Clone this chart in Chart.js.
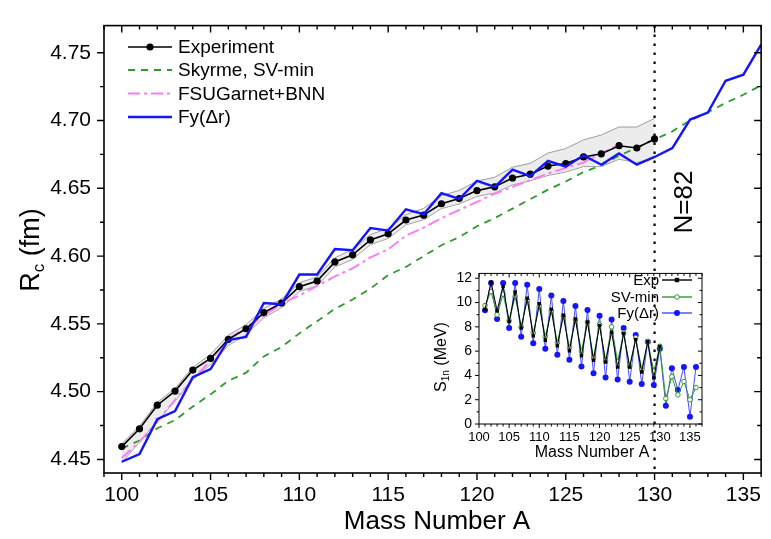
<!DOCTYPE html>
<html>
<head>
<meta charset="utf-8">
<script src="https://cdn.jsdelivr.net/npm/chart.js@4.4.1/dist/chart.umd.min.js"></script>
<style>
  html, body { margin: 0; padding: 0; background: #fff; }
  #wrap { position: relative; width: 771px; height: 539px; }
  #main { position: absolute; left: 0; top: 0; }
  #inset { position: absolute; left: 420px; top: 258px; }
</style>
</head>
<body>
<div id="wrap">
  <canvas id="main" width="771" height="539"></canvas>
  <canvas id="inset" width="300" height="210"></canvas>
</div>
<script>
// ---- main panel: charge radii R_c (fm) ----
const expA = [100,101,102,103,104,105,106,107,108,109,110,111,112,113,114,115,116,117,118,119,120,121,122,123,124,125,126,127,128,129,130];
const expRc = [4.4595,4.4726,4.4900,4.5004,4.5159,4.5245,4.5386,4.5464,4.5583,4.5654,4.5774,4.5816,4.5957,4.6009,4.6119,4.6164,4.6266,4.6302,4.6386,4.6424,4.6483,4.6511,4.6576,4.6604,4.6664,4.6683,4.6731,4.6754,4.6814,4.6797,4.6864];
const bandHi = [4.4615,4.4746,4.4920,4.5024,4.5179,4.5275,4.5416,4.5494,4.5613,4.5684,4.5804,4.5846,4.5987,4.6049,4.6159,4.6204,4.6306,4.6352,4.6446,4.6484,4.6553,4.6581,4.6656,4.6684,4.6760,4.6793,4.6857,4.6893,4.6952,4.6952,4.7016];
const bandLo = [4.4475,4.4630,4.4780,4.4930,4.5090,4.5200,4.5340,4.5420,4.5545,4.5620,4.5740,4.5780,4.5920,4.5975,4.6085,4.6130,4.6230,4.6268,4.6350,4.6385,4.6440,4.6465,4.6525,4.6555,4.6595,4.6620,4.6660,4.6660,4.6714,4.6690,4.6726];

const theoryA = [100,101,102,103,104,105,106,107,108,109,110,111,112,113,114,115,116,117,118,119,120,121,122,123,124,125,126,127,128,129,130,131,132,133,134,135,136];
const svminRc = [4.458,4.464,4.473,4.479,4.489,4.498,4.508,4.514,4.526,4.533,4.543,4.552,4.561,4.568,4.576,4.586,4.592,4.600,4.608,4.614,4.622,4.628,4.635,4.642,4.649,4.655,4.662,4.667,4.674,4.680,4.686,4.692,4.700,4.706,4.713,4.719,4.726];
const fyRc = [4.4483,4.4540,4.4797,4.4857,4.5107,4.5166,4.5381,4.5404,4.5654,4.5645,4.5864,4.5864,4.6052,4.6043,4.6207,4.6188,4.6345,4.6309,4.6464,4.6421,4.6554,4.6511,4.6638,4.6590,4.6702,4.6659,4.6743,4.6674,4.6757,4.6674,4.6731,4.6797,4.7007,4.7059,4.7293,4.7338,4.7559];

const fsuA = [100,101,102,103,104,105,106,107,108,109,110,111,112,113,114,115,116,117,118,119,120,121,122,123,124,125,126,127,128];
const fsuRc = [4.451,4.463,4.478,4.494,4.509,4.523,4.539,4.547,4.556,4.565,4.571,4.578,4.585,4.591,4.599,4.605,4.615,4.621,4.628,4.634,4.640,4.646,4.651,4.656,4.661,4.665,4.669,4.676,4.682];

const mainXTicks = [100,105,110,115,120,125,130,135];
const mainYTicks = [4.45,4.50,4.55,4.60,4.65,4.70,4.75];
const shellClosureA = 130;

// ---- inset: one-neutron separation energy S_1n (MeV) ----
const s1nA = [101,102,103,104,105,106,107,108,109,110,111,112,113,114,115,116,117,118,119,120,121,122,123,124,125,126,127,128,129,130,131,132,133,134,135,136];
const s1nExp = [9.43,11.68,9.33,11.33,8.44,10.88,7.90,10.35,7.26,9.91,6.90,9.46,6.43,8.95,6.03,8.65,5.62,8.40,5.25,8.12,5.10,7.55,4.68,7.45,4.68,6.96,4.28,6.78,3.80,6.38];
const s1nSv = [9.75,10.90,9.00,10.70,8.50,10.50,8.00,10.20,7.50,9.70,7.20,9.30,6.70,8.90,6.30,8.60,6.00,8.40,5.45,8.20,5.20,8.00,5.15,7.50,4.75,7.10,4.50,6.80,4.35,6.40,2.10,3.90,2.40,3.50,2.00,3.00];
const s1nFy = [9.37,11.60,8.65,11.60,7.90,11.60,7.18,11.46,6.64,11.12,6.19,10.58,5.71,10.13,5.28,9.72,4.74,9.38,4.18,8.92,3.83,8.60,3.67,7.90,3.48,7.32,3.29,6.78,3.21,6.19,1.50,4.60,2.80,4.70,0.60,4.70];

const insetXTicks = [100,105,110,115,120,125,130,135];
const insetYTicks = [0,2,4,6,8,10,12];

const FONT = "'Liberation Sans', Arial, Helvetica, sans-serif";
const BLUE = '#1414ff';
const GREEN = '#2f9a2f';
const PINK = '#ff7cf6';

const pts = (xs, ys) => ys.map((y, i) => ({ x: xs[i], y }));

// Draw text made of parts (for subscripts), centred at cx,cy, optionally rotated
function drawRich(ctx, parts, cx, cy, rot) {
  ctx.save();
  ctx.translate(cx, cy);
  if (rot) ctx.rotate(rot);
  let total = 0;
  parts.forEach((p) => {
    ctx.font = `${p.size}px ${FONT}`;
    p.w = ctx.measureText(p.t).width;
    total += p.w;
  });
  let x = -total / 2;
  ctx.fillStyle = '#000';
  ctx.textBaseline = 'middle';
  ctx.textAlign = 'left';
  parts.forEach((p) => {
    ctx.font = `${p.size}px ${FONT}`;
    ctx.fillText(p.t, x, p.dy || 0);
    x += p.w;
  });
  ctx.restore();
}

// Tick positions along a scale, flagged major/minor
function tickList(scale, minor, major) {
  const out = [];
  const i0 = Math.ceil(scale.min / minor - 1e-6);
  const i1 = Math.floor(scale.max / minor + 1e-6);
  for (let i = i0; i <= i1; i++) {
    const v = i * minor;
    const r = v / major;
    out.push({ px: scale.getPixelForValue(v), major: Math.abs(r - Math.round(r)) < 1e-6 });
  }
  return out;
}

// Box frame, ticks (outward bottom/left, inward top/right), dotted line, extra text
const framePlugin = {
  id: 'frame',
  afterDatasetsDraw(chart, args, opts) {
    const { ctx, chartArea: a, scales: { x, y } } = chart;
    ctx.save();
    if (opts.vline != null) {
      const vx = x.getPixelForValue(opts.vline);
      ctx.strokeStyle = '#000';
      ctx.lineWidth = opts.vlineWidth;
      ctx.setLineDash(opts.vlineDash);
      ctx.beginPath();
      ctx.moveTo(vx, a.top);
      ctx.lineTo(vx, a.bottom);
      ctx.stroke();
      ctx.setLineDash([]);
    }
    ctx.strokeStyle = '#000';
    ctx.lineWidth = opts.lw;
    ctx.strokeRect(a.left, a.top, a.right - a.left, a.bottom - a.top);
    ctx.lineWidth = opts.tw;
    ctx.beginPath();
    tickList(x, opts.xMinor, opts.xMajor).forEach((t) => {
      const L = t.major ? opts.majLen : opts.minLen;
      ctx.moveTo(t.px, a.bottom); ctx.lineTo(t.px, a.bottom + L);
      ctx.moveTo(t.px, a.top); ctx.lineTo(t.px, a.top + L);
    });
    tickList(y, opts.yMinor, opts.yMajor).forEach((t) => {
      const L = t.major ? opts.majLen : opts.minLen;
      ctx.moveTo(a.left, t.px); ctx.lineTo(a.left - L, t.px);
      ctx.moveTo(a.right, t.px); ctx.lineTo(a.right - L, t.px);
    });
    ctx.stroke();
    ctx.restore();
    if (opts.draw) opts.draw(chart);
  }
};

// ---- main chart ----
new Chart(document.getElementById('main'), {
  type: 'line',
  data: {
    datasets: [
      { data: pts(expA, bandHi), borderColor: '#9c9c9c', borderWidth: 1, pointRadius: 0, fill: '+1', backgroundColor: 'rgba(200,200,200,0.35)', order: 6 },
      { data: pts(expA, bandLo), borderColor: '#9c9c9c', borderWidth: 1, pointRadius: 0, fill: false, order: 7 },
      { label: 'Experiment', data: pts(expA, expRc), borderColor: '#000', borderWidth: 1.6, pointRadius: 3.6, pointBackgroundColor: '#000', pointBorderWidth: 0, order: 2 },
      { label: 'Skyrme, SV-min', data: pts(theoryA, svminRc), borderColor: GREEN, borderWidth: 1.8, borderDash: [7, 6], pointRadius: 0, order: 4 },
      { label: 'FSUGarnet+BNN', data: pts(fsuA, fsuRc), borderColor: PINK, borderWidth: 2, borderDash: [12, 4, 3, 4], pointRadius: 0, order: 3 },
      { label: 'Fy(\u0394r)', data: pts(theoryA, fyRc), borderColor: BLUE, borderWidth: 2.4, pointRadius: 0, order: 1 },
    ],
  },
  options: {
    responsive: false,
    animation: false,
    layout: { padding: { left: 0, right: 1, top: 11, bottom: 0 } },
    plugins: {
      legend: { display: false },
      tooltip: { enabled: false },
      frame: {
        lw: 1.6, tw: 1.4, majLen: 7, minLen: 4,
        xMinor: 1, xMajor: 5, yMinor: 0.025, yMajor: 0.05,
        vline: shellClosureA, vlineWidth: 2.2, vlineDash: [2.5, 6.5],
        draw(chart) {
          const { ctx } = chart;
          drawRich(ctx, [{ t: 'Mass Number A', size: 26 }], 437, 522);
          drawRich(ctx, [{ t: 'R', size: 27 }, { t: 'c', size: 17, dy: 7 }, { t: ' (fm)', size: 27 }], 32, 250, -Math.PI / 2);
          drawRich(ctx, [{ t: 'N=82', size: 26 }], 685, 202, -Math.PI / 2);
          // legend
          const rows = [47, 70, 93.5, 117];
          const ds = chart.data.datasets.slice(2);
          ctx.save();
          ds.forEach((d, i) => {
            const yy = rows[i];
            ctx.strokeStyle = d.borderColor;
            ctx.lineWidth = d.borderWidth;
            ctx.setLineDash(d.borderDash || []);
            ctx.beginPath();
            ctx.moveTo(128, yy); ctx.lineTo(172, yy);
            ctx.stroke();
            ctx.setLineDash([]);
            if (d.pointRadius) {
              ctx.fillStyle = '#000';
              ctx.beginPath(); ctx.arc(150, yy, d.pointRadius, 0, 2 * Math.PI); ctx.fill();
            }
          });
          ctx.font = `19px ${FONT}`;
          ctx.fillStyle = '#000';
          ctx.textBaseline = 'middle';
          ds.forEach((d, i) => ctx.fillText(d.label, 178, rows[i] + 1));
          ctx.restore();
        },
      },
    },
    scales: {
      x: {
        type: 'linear', min: 99, max: 136,
        afterBuildTicks: (s) => { s.ticks = mainXTicks.map((v) => ({ value: v })); },
        afterFit: (s) => { s.height = 66; },
        grid: { display: false, drawTicks: false }, border: { display: false },
        ticks: { color: '#000', padding: 10, font: { family: FONT, size: 21 }, maxRotation: 0 },
      },
      y: {
        type: 'linear', min: 4.44, max: 4.77,
        afterBuildTicks: (s) => { s.ticks = mainYTicks.map((v) => ({ value: v })); },
        afterFit: (s) => { s.width = 104; },
        grid: { display: false, drawTicks: false }, border: { display: false },
        ticks: { color: '#000', padding: 13, font: { family: FONT, size: 21 }, callback: (v) => v.toFixed(2) },
      },
    },
  },
  plugins: [framePlugin],
});

// ---- inset chart ----
new Chart(document.getElementById('inset'), {
  type: 'line',
  data: {
    datasets: [
      { label: 'Exp', data: pts(s1nA, s1nExp), borderColor: '#000', borderWidth: 1, pointStyle: 'rect', pointRadius: 2.4, pointBackgroundColor: '#000', pointBorderWidth: 0 },
      { label: 'SV-min', data: pts(s1nA, s1nSv), borderColor: GREEN, borderWidth: 1, pointRadius: 2.3, pointBackgroundColor: '#fff', pointBorderColor: GREEN, pointBorderWidth: 1 },
      { label: 'Fy(\u0394r)', data: pts(s1nA, s1nFy), borderColor: '#4a4aff', borderWidth: 1, pointRadius: 3, pointBackgroundColor: BLUE, pointBorderWidth: 0 },
    ],
  },
  options: {
    responsive: false,
    animation: false,
    layout: { padding: { left: 0, right: 18, top: 12, bottom: 0 } },
    plugins: {
      legend: { display: false },
      tooltip: { enabled: false },
      frame: {
        lw: 1, tw: 1, majLen: 4, minLen: 2.5,
        xMinor: 1, xMajor: 5, yMinor: 1, yMajor: 2,
        draw(chart) {
          const { ctx } = chart;
          drawRich(ctx, [{ t: 'Mass Number A', size: 16 }], 172, 195);
          drawRich(ctx, [{ t: 'S', size: 16 }, { t: '1n', size: 10, dy: 4 }, { t: ' (MeV)', size: 16 }], 22, 99, -Math.PI / 2);
          const rows = [22, 39, 55];
          chart.data.datasets.forEach((d, i) => {
            const yy = rows[i];
            ctx.save();
            ctx.strokeStyle = d.borderColor;
            ctx.lineWidth = 1.4;
            ctx.beginPath(); ctx.moveTo(242, yy); ctx.lineTo(272, yy); ctx.stroke();
            ctx.fillStyle = d.pointBackgroundColor;
            ctx.strokeStyle = d.pointBorderColor || d.pointBackgroundColor;
            ctx.lineWidth = 1;
            if (d.pointStyle === 'rect') {
              ctx.fillRect(257 - 2.2, yy - 2.2, 4.4, 4.4);
            } else {
              ctx.beginPath(); ctx.arc(257, yy, d.pointRadius, 0, 2 * Math.PI); ctx.fill();
              if (d.pointBorderWidth) ctx.stroke();
            }
            ctx.font = `15px ${FONT}`;
            ctx.fillStyle = '#000';
            ctx.textAlign = 'right';
            ctx.textBaseline = 'middle';
            ctx.fillText(d.label, 239, yy + 1);
            ctx.restore();
          });
        },
      },
    },
    scales: {
      x: {
        type: 'linear', min: 100, max: 137,
        afterBuildTicks: (s) => { s.ticks = insetXTicks.map((v) => ({ value: v })); },
        afterFit: (s) => { s.height = 44; },
        grid: { display: false, drawTicks: false }, border: { display: false },
        ticks: { color: '#000', padding: 6, font: { family: FONT, size: 13 }, maxRotation: 0 },
      },
      y: {
        type: 'linear', min: 0, max: 12.4,
        afterBuildTicks: (s) => { s.ticks = insetYTicks.map((v) => ({ value: v })); },
        afterFit: (s) => { s.width = 59; },
        grid: { display: false, drawTicks: false }, border: { display: false },
        ticks: { color: '#000', padding: 7, font: { family: FONT, size: 14 } },
      },
    },
  },
  plugins: [framePlugin],
});
</script>
</body>
</html>
